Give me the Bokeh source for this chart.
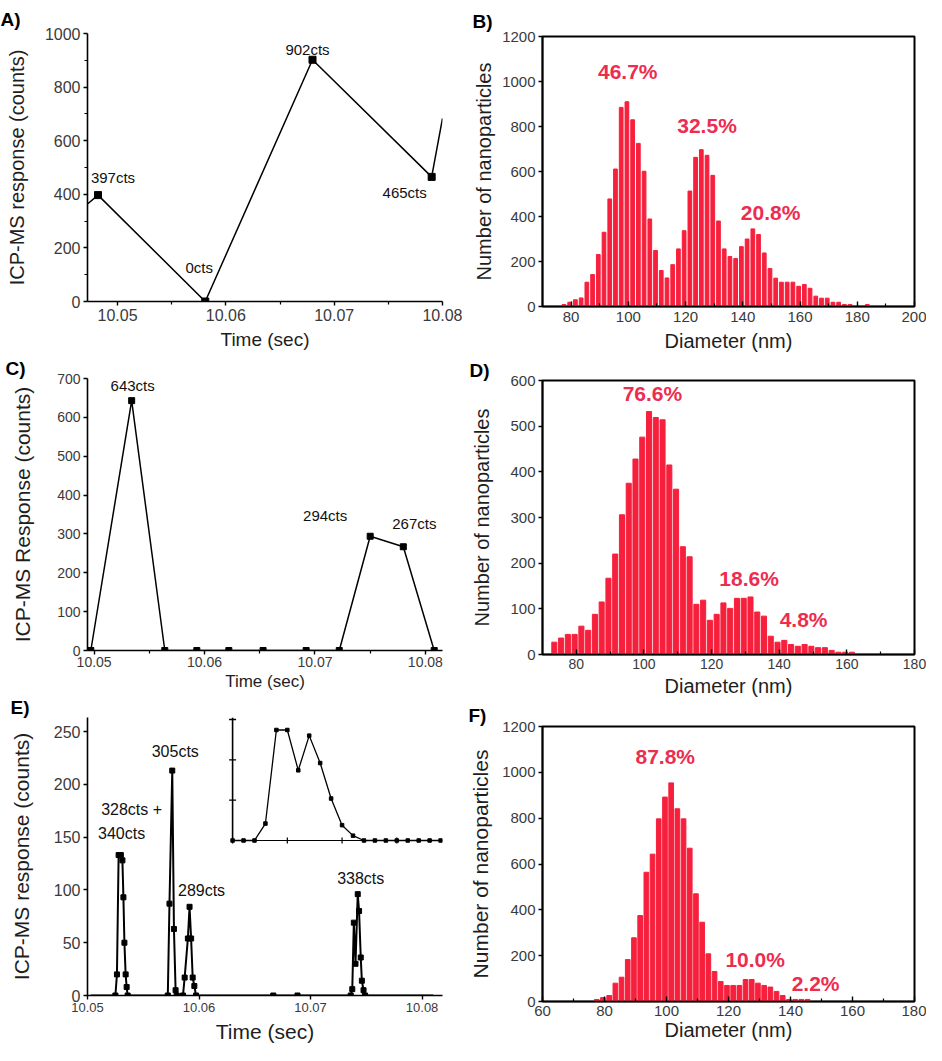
from bokeh.plotting import figure
from bokeh.layouts import row, column
from bokeh.models import Range1d, FixedTicker, NumeralTickFormatter
from bokeh.core.properties import value
from bokeh.embed import file_html
from bokeh.resources import INLINE

FONT = "Liberation Sans"
BAR_COLOR = "#f6203d"
PCT_COLOR = "#ee2c50"
TICK_COLOR = "#3a3a3a"
LABEL_COLOR = "#1e1e1e"

# ---------------- data ----------------
# Panel A : ICP-MS time trace
A_time = [10.0472, 10.0482, 10.0581, 10.0680, 10.0790, 10.0800]
A_counts = [363, 397, 0, 902, 465, 683]
A_peak_time = [10.0482, 10.0581, 10.0680, 10.0790]
A_peak_counts = [397, 0, 902, 465]
A_peak_text = ["397cts", "0cts", "902cts", "465cts"]
A_xticks = [10.05, 10.06, 10.07, 10.08]
A_xminor = [10.055, 10.065, 10.075]
A_yticks = [0, 200, 400, 600, 800, 1000]
A_yminor = [100, 300, 500, 700, 900]

# Panel B : size histogram
B_diam = [77.5, 79.5, 81.5, 83.5, 85.5, 87.5, 89.5, 91.5, 93.5, 95.5,
          97.5, 99.5, 101.5, 103.5, 105.5, 107.5, 109.5, 111.5, 113.5, 115.5,
          117.5, 119.5, 121.5, 123.5, 125.5, 127.5, 129.5, 131.5, 133.5, 135.5,
          137.5, 139.5, 141.5, 143.5, 145.5, 147.5, 149.5, 151.5, 153.5, 155.5,
          157.5, 159.5, 161.5, 163.5, 165.5, 167.5, 169.5, 171.5, 173.5, 175.5,
          177.5, 179.5, 181.5, 183.5]
B_count = [9, 19, 30, 38, 108, 142, 231, 330, 478, 611,
           885, 910, 830, 725, 601, 389, 249, 160, 127, 186,
           256, 337, 513, 663, 697, 672, 583, 380, 256, 222,
           213, 266, 300, 345, 320, 238, 169, 126, 108, 108,
           108, 90, 98, 81, 46, 37, 37, 19, 19, 9,
           9, 0, 0, 9]
B_pct = ["46.7%", "32.5%", "20.8%"]
B_pct_x = [99.8, 127.5, 149.7]
B_pct_y = [1044, 804, 418]
B_xticks = [80, 100, 120, 140, 160, 180, 200]
B_xminor = [90, 110, 130, 150, 170, 190]
B_yticks = [0, 200, 400, 600, 800, 1000, 1200]

# Panel C : ICP-MS time trace
C_time = [10.0497, 10.0534, 10.0564, 10.0593, 10.0622, 10.0653, 10.0692, 10.0722, 10.0750, 10.0780, 10.0808]
C_counts = [0, 643, 0, 0, 0, 0, 0, 0, 294, 267, 0]
C_peak_time = [10.0534, 10.0750, 10.0780]
C_peak_counts = [643, 294, 267]
C_peak_text = ["643cts", "294cts", "267cts"]
C_xticks = [10.05, 10.06, 10.07, 10.08]
C_xminor = [10.055, 10.065, 10.075]
C_yticks = [0, 100, 200, 300, 400, 500, 600, 700]

# Panel D : size histogram
D_diam = [73.5, 75.5, 77.5, 79.5, 81.5, 83.5, 85.5, 87.5, 89.5, 91.5,
          93.5, 95.5, 97.5, 99.5, 101.5, 103.5, 105.5, 107.5, 109.5, 111.5,
          113.5, 115.5, 117.5, 119.5, 121.5, 123.5, 125.5, 127.5, 129.5, 131.5,
          133.5, 135.5, 137.5, 139.5, 141.5, 143.5, 145.5, 147.5, 149.5, 151.5,
          153.5, 155.5, 157.5, 159.5, 161.5]
D_count = [27, 36, 44, 44, 62, 53, 88, 115, 167, 220,
           306, 375, 428, 476, 532, 519, 514, 415, 362, 236,
           214, 110, 119, 75, 88, 113, 101, 123, 123, 126,
           93, 84, 40, 27, 31, 22, 18, 22, 18, 15,
           15, 9, 5, 5, 5]
D_pct = ["76.6%", "18.6%", "4.8%"]
D_pct_x = [102.5, 131.1, 147.2]
D_pct_y = [571, 166, 77]
D_xticks = [80, 100, 120, 140, 160, 180]
D_xminor = [90, 110, 130, 150, 170]
D_yticks = [0, 100, 200, 300, 400, 500, 600]

# Panel E : ICP-MS time trace with inset
E_time = [10.0503, 10.0525, 10.05264, 10.05279, 10.05299, 10.05313, 10.05322, 10.05331, 10.05342, 10.05351,
          10.0536, 10.0572, 10.05735, 10.0576, 10.05775, 10.0579, 10.0580, 10.05856, 10.05871, 10.0590,
          10.05915, 10.05929, 10.05943, 10.05958, 10.05973, 10.06666, 10.06883, 10.0736, 10.07374, 10.07388,
          10.07403, 10.07423, 10.07435, 10.0745, 10.0746, 10.07475, 10.07489, 10.0810]
E_counts = [0, 0, 20, 133, 133, 128, 93, 50, 20, 8,
            0, 0, 87, 213, 63, 5, 0, 0, 17, 54,
            84, 54, 17, 9, 0, 0, 0, 0, 6, 69,
            30, 96, 80, 36, 14, 5, 0, 0]
E_peak_time = [10.05279, 10.05279, 10.0576, 10.05915, 10.07423]
E_peak_counts = [133, 133, 213, 84, 96]
E_peak_text = ["328cts +", "340cts", "305cts", "289cts", "338cts"]
E_xticks = [10.05, 10.06, 10.07, 10.08]
E_yticks = [0, 50, 100, 150, 200, 250]
Inset_time = [10.0520, 10.0521, 10.0522, 10.0523, 10.0524, 10.0525, 10.0526, 10.0527, 10.0528, 10.0529,
              10.0530, 10.0531, 10.0532, 10.0533, 10.0534, 10.0535, 10.0536, 10.0537, 10.0538, 10.0539]
Inset_counts = [0, 0, 0, 21, 137, 137, 87, 130, 96, 52,
                19, 6, 0, 0, 0, 0, 0, 0, 0, 0]
Inset_xticks = [10.0520, 10.0525, 10.0530, 10.0535]
Inset_yticks = [50, 100, 150]

# Panel F : size histogram
F_diam = [77.5, 79.5, 81.5, 83.5, 85.5, 87.5, 89.5, 91.5, 93.5, 95.5,
          97.5, 99.5, 101.5, 103.5, 105.5, 107.5, 109.5, 111.5, 113.5, 115.5,
          117.5, 119.5, 121.5, 123.5, 125.5, 127.5, 129.5, 131.5, 133.5, 135.5,
          137.5, 139.5, 141.5, 143.5, 145.5]
F_count = [9, 17, 26, 80, 106, 183, 278, 375, 564, 643,
           797, 892, 954, 841, 797, 669, 470, 346, 208, 131,
           87, 70, 70, 70, 96, 96, 80, 70, 63, 44,
           26, 9, 9, 9, 9]
F_pct = ["87.8%", "10.0%", "2.2%"]
F_pct_x = [99.6, 128.6, 148.1]
F_pct_y = [1069, 183, 79]
F_xticks = [60, 80, 100, 120, 140, 160, 180]
F_xminor = [70, 90, 110, 130, 150, 170]
F_yticks = [0, 200, 400, 600, 800, 1000, 1200]


# ---------------- helpers ----------------
def make_fig(w, h, bl, br, bt, bb, xr, yr, label, loff, lstand, boxed):
    p = figure(width=w, height=h, x_range=xr, y_range=yr,
               min_border_left=bl, min_border_right=br,
               min_border_top=bt, min_border_bottom=bb,
               toolbar_location=None, output_backend="svg", title=label)
    p.title.align = "left"
    p.title.offset = loff
    p.title.text_font = FONT
    p.title.text_font_size = "19px"
    p.title.text_font_style = "bold"
    p.title.text_color = "black"
    if "standoff" in p.title.properties():
        p.title.standoff = lstand
    p.xgrid.visible = False
    p.ygrid.visible = False
    p.background_fill_color = "white"
    p.border_fill_color = "white"
    if boxed:
        p.outline_line_color = "black"
        p.outline_line_width = 2
        p.outline_line_alpha = 1
    else:
        p.outline_line_color = None
    return p


def style_axis(ax, ticks, minor, fmt, tick_size, tick_standoff, label, label_size,
               label_standoff, tick_in, tick_out):
    ax.ticker = FixedTicker(ticks=ticks, minor_ticks=minor)
    if fmt:
        ax.formatter = NumeralTickFormatter(format=fmt)
    ax.major_label_text_font = FONT
    ax.major_label_text_font_size = tick_size
    ax.major_label_text_color = TICK_COLOR
    ax.major_label_standoff = tick_standoff
    ax.axis_label = label
    ax.axis_label_text_font = FONT
    ax.axis_label_text_font_size = label_size
    ax.axis_label_text_font_style = "normal"
    ax.axis_label_text_color = LABEL_COLOR
    ax.axis_label_standoff = label_standoff
    ax.axis_line_color = "black"
    ax.axis_line_width = 1.6
    ax.major_tick_line_color = "black"
    ax.major_tick_line_width = 1.4
    ax.minor_tick_line_color = "black"
    ax.minor_tick_line_width = 1.2
    ax.major_tick_in = tick_in
    ax.major_tick_out = tick_out
    ax.minor_tick_in = 3 if tick_in else 0
    ax.minor_tick_out = 3 if tick_out else 0


def count_labels(p, xs, ys, texts, dx, dy, size):
    p.text(x=xs, y=ys, text=texts, x_offset=dx, y_offset=dy,
           text_font=value(FONT), text_font_size=size, text_color="#111111",
           text_align="center", text_baseline="middle")


def pct_labels(p, xs, ys, texts):
    p.text(x=xs, y=ys, text=texts, text_font=value(FONT), text_font_size="21px",
           text_font_style="bold", text_color=PCT_COLOR,
           text_align="center", text_baseline="middle")


def range_for(lo, hi, f_lo, f_hi):
    span = (hi - lo) / (f_hi - f_lo)
    start = lo - f_lo * span
    return Range1d(start, start + span)


# ---------------- panel A ----------------
pA = make_fig(466, 354, 87, 24, 33, 53, Range1d(10.04723, 10.08), Range1d(0, 1000),
              "A)", -87, 8, False)
pA.line(A_time, A_counts, line_color="black", line_width=1.5)
pA.scatter(A_peak_time, A_peak_counts, marker="square", size=7, color="black")
count_labels(pA, A_peak_time, A_peak_counts, A_peak_text,
             [15, -6, -5, -27], [-18, -34, -10, 16], "15px")
style_axis(pA.xaxis[0], A_xticks, A_xminor, "0.00", "16px", 3, "Time (sec)", "19px", 5, 0, 4)
style_axis(pA.yaxis[0], A_yticks, A_yminor, None, "16px", 3, "ICP-MS response (counts)", "20px", 14, 0, 4)

# ---------------- panel C ----------------
pC = make_fig(466, 340, 82, 11, 24, 44, Range1d(10.0494, 10.08155), Range1d(0, 700),
              "C)", -82, 0, False)
pC.line(C_time, C_counts, line_color="black", line_width=1.5)
pC.scatter(C_time, C_counts, marker="square", size=6, color="black")
count_labels(pC, C_peak_time, C_peak_counts, C_peak_text,
             [1, -45, 11], [-15, -21, -23], "15px")
style_axis(pC.xaxis[0], C_xticks, C_xminor, "0.00", "14px", 2, "Time (sec)", "17px", 2, 0, 4)
style_axis(pC.yaxis[0], C_yticks, [], None, "14px", 3, "ICP-MS Response (counts)", "21px", 20, 0, 4)

# ---------------- panel E ----------------
pE = make_fig(466, 351, 77, 22, 23, 50, Range1d(10.0500, 10.08183), Range1d(0, 263.3),
              "E)", -77, 0, False)
pE.line(E_time, E_counts, line_color="black", line_width=2)
pE.scatter(E_time[1:-1], E_counts[1:-1], marker="square", size=5, color="black")
count_labels(pE, E_peak_time, E_peak_counts, E_peak_text,
             [13, 3, 3, 12, 3], [-46, -22, -19, -16, -16], "16px")
style_axis(pE.xaxis[0], E_xticks, [], "0.00", "13px", 3, "Time (sec)", "21px", 5, 0, 4)
style_axis(pE.yaxis[0], E_yticks, [], None, "16px", 3, "ICP-MS response (counts)", "21px", 18, 0, 4)

# inset occupies the upper-right part of panel E's frame
inset_x = range_for(Inset_time[0], Inset_time[-1], 0.4087, 0.9946)
inset_y = range_for(0, Inset_yticks[-1], 0.5576, 0.9928)
pE.extra_x_ranges = {"inset": inset_x}
pE.extra_y_ranges = {"inset": inset_y}
pE.line([Inset_time[0], Inset_time[0]], [0, inset_y.end], x_range_name="inset",
        y_range_name="inset", line_color="black", line_width=1.6)
pE.line([Inset_time[0], inset_x.end], [0, 0], x_range_name="inset",
        y_range_name="inset", line_color="black", line_width=1.2)
pE.scatter([Inset_time[0]] * len(Inset_yticks), Inset_yticks, marker="dash", size=7,
           line_color="black", line_width=1.4, x_range_name="inset", y_range_name="inset")
pE.scatter(Inset_xticks, [0] * len(Inset_xticks), marker="dash", angle=1.5708, size=6,
           line_color="black", line_width=1.2, x_range_name="inset", y_range_name="inset")
pE.line(Inset_time, Inset_counts, x_range_name="inset", y_range_name="inset",
        line_color="black", line_width=1.3)
pE.scatter(Inset_time, Inset_counts, marker="square", size=3.5, color="black",
           x_range_name="inset", y_range_name="inset")

# ---------------- panel B ----------------
pB = make_fig(460, 356, 68, 12, 36, 50, Range1d(70, 200), Range1d(0, 1200),
              "B)", -70, 10, True)
pB.vbar(x=B_diam, top=B_count, width=1.3, color=BAR_COLOR)
pct_labels(pB, B_pct_x, B_pct_y, B_pct)
style_axis(pB.xaxis[0], B_xticks, B_xminor, None, "15px", 5, "Diameter (nm)", "20px", 5, 5, 0)
style_axis(pB.yaxis[0], B_yticks, [], None, "15px", 3, "Number of nanoparticles", "20px", 4, 0, 4)

# ---------------- panel D ----------------
pD = make_fig(460, 344, 73, 11, 24, 46, Range1d(70, 180), Range1d(0, 600),
              "D)", -73, 0, True)
pD.vbar(x=D_diam, top=D_count, width=1.5, color=BAR_COLOR)
pct_labels(pD, D_pct_x, D_pct_y, D_pct)
style_axis(pD.xaxis[0], D_xticks, D_xminor, None, "14px", 4, "Diameter (nm)", "20px", 3, 5, 0)
style_axis(pD.yaxis[0], D_yticks, [], None, "15px", 3, "Number of nanoparticles", "20px", 14, 0, 4)

# ---------------- panel F ----------------
pF = make_fig(460, 345, 74, 10, 26, 44, Range1d(60, 180), Range1d(0, 1200),
              "F)", -74, 2, True)
pF.vbar(x=F_diam, top=F_count, width=1.5, color=BAR_COLOR)
pct_labels(pF, F_pct_x, F_pct_y, F_pct)
style_axis(pF.xaxis[0], F_xticks, F_xminor, None, "15px", 4, "Diameter (nm)", "20px", 0, 5, 0)
style_axis(pF.yaxis[0], F_yticks, [], None, "15px", 3, "Number of nanoparticles", "21px", 7, 0, 4)

layout = row(column(pA, pC, pE), column(pB, pD, pF))

with open("out.html", "w") as fh:
    fh.write(file_html(layout, INLINE))
